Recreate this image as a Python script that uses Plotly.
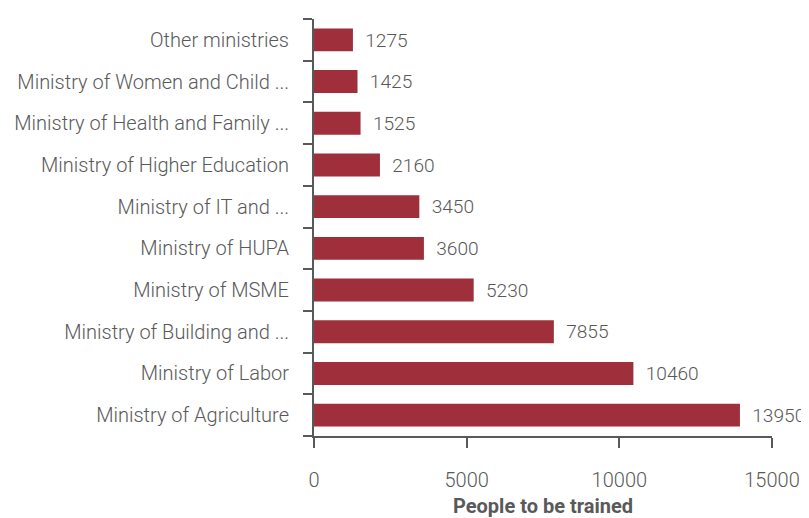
import plotly.graph_objects as go

categories = [
    "Ministry of Agriculture",
    "Ministry of Labor",
    "Ministry of Building and ...",
    "Ministry of MSME",
    "Ministry of HUPA",
    "Ministry of IT and ...",
    "Ministry of Higher Education",
    "Ministry of Health and Family ...",
    "Ministry of Women and Child ...",
    "Other ministries",
]
values = [13950, 10460, 7855, 5230, 3600, 3450, 2160, 1525, 1425, 1275]
x_ticks = [0, 5000, 10000, 15000]

FONT = "Roboto, sans-serif"
GREY = "#595959"
BAR = "#9E2F3B"

fig = go.Figure(
    go.Bar(
        y=categories,
        x=values,
        orientation="h",
        marker=dict(color=BAR, line=dict(width=0)),
        width=0.55,
        text=["  " + str(v) for v in values],
        textposition="outside",
        textfont=dict(family=FONT, size=20, color=GREY, weight=300),
        cliponaxis=False,
        hoverinfo="skip",
    )
)

# page body has an 8px default margin, so the figure is drawn 8px smaller
fig.update_layout(
    width=801,
    height=510,
    margin=dict(l=306, r=37, t=11, b=82),
    plot_bgcolor="white",
    paper_bgcolor="white",
    font=dict(family=FONT, size=20, color=GREY, weight=300),
    showlegend=False,
)

fig.update_xaxes(
    range=[0, 15000],
    tickvals=x_ticks,
    ticktext=[str(t) for t in x_ticks],
    showgrid=False,
    zeroline=False,
    showline=True,
    linecolor=GREY,
    linewidth=2,
    ticks="outside",
    ticklen=10,
    tickwidth=2,
    tickcolor=GREY,
    ticklabelstandoff=15,
    automargin=False,
    tickfont=dict(family=FONT, size=20, color=GREY, weight=300),
    title=dict(text="People to be trained", font=dict(family=FONT, size=20, color=GREY, weight=700), standoff=8),
)

fig.update_yaxes(
    categoryorder="array",
    categoryarray=categories,
    showgrid=False,
    zeroline=False,
    showline=True,
    linecolor=GREY,
    linewidth=2,
    ticks="outside",
    tickson="boundaries",
    ticklen=9,
    tickwidth=2,
    tickcolor=GREY,
    ticklabelstandoff=19,
    automargin=False,
    tickfont=dict(family=FONT, size=20, color=GREY, weight=300),
)

fig.write_html("out.html")
